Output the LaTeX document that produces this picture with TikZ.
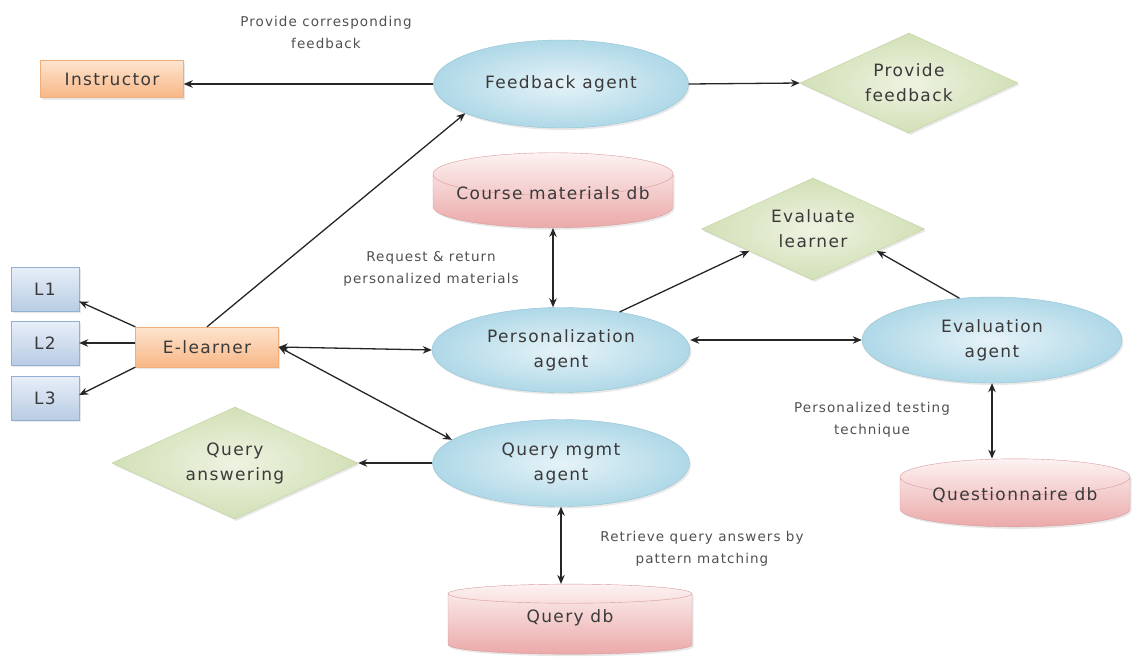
\documentclass[tikz,border=0pt]{standalone}
\usepackage{fontspec}
\setmainfont[LetterSpace=8]{DejaVu Sans}
\usetikzlibrary{shapes.geometric,arrows.meta,shadows}
\tikzset {>={Stealth[length=9pt,width=7.5pt]}}

\newcommand\dbtext[1]{\raisebox{2pt}[0pt][0pt]{#1}}

\definecolor{txtgrey}{HTML}{3A3A3A}
\definecolor{lblgrey}{HTML}{505050}
\definecolor{agentin}{HTML}{E6F3F8}
\definecolor{agentout}{HTML}{AFD8E7}
\definecolor{agentline}{HTML}{92C2D4}
\definecolor{dbtop}{HTML}{FDF2F2}
\definecolor{dbbot}{HTML}{EBA9A9}
\definecolor{dbline}{HTML}{D99A9A}
\definecolor{decin}{HTML}{EEF3E2}
\definecolor{decout}{HTML}{D2E0B6}
\definecolor{decline}{HTML}{BFD09C}
\definecolor{persontop}{HTML}{FDE4CF}
\definecolor{personbot}{HTML}{F8B786}
\definecolor{personline}{HTML}{EFAE7C}
\definecolor{lboxtop}{HTML}{E8EFF8}
\definecolor{lboxbot}{HTML}{B8CCE4}
\definecolor{lboxline}{HTML}{93AFD2}

\tikzset{
  nodetext/.style={font=\fontsize{17}{25}\selectfont, text=txtgrey, align=center, inner sep=0pt},
  softshadow/.style={drop shadow={shadow xshift=1.5pt, shadow yshift=-2pt, opacity=.18}},
  agent/.style={nodetext, ellipse, draw=agentline, inner color=agentin, outer color=agentout, softshadow},
  dbase/.style={nodetext, cylinder, shape border rotate=90, aspect=0.22, draw=dbline,
    top color=dbtop, bottom color=dbbot, softshadow},
  decision/.style={nodetext, diamond, aspect=2.2, draw=decline, inner color=decin, outer color=decout, softshadow},
  person/.style={nodetext, rectangle, draw=personline, top color=persontop, bottom color=personbot, softshadow},
  lbox/.style={nodetext, rectangle, draw=lboxline, top color=lboxtop, bottom color=lboxbot,
    minimum width=68, minimum height=44, softshadow},
  lbl/.style={font=\fontsize{13.5}{22}\selectfont, text=lblgrey, align=center},
  link/.style={line width=1.3pt, draw=black!85}
}

\begin{document}
\begin{tikzpicture}[x=1pt,y=-1pt]
\useasboundingbox (0,0) rectangle (1132,656);

% agents
\node[agent, minimum width=255, minimum height=88] (feedback) at (561,84) {Feedback agent};
\node[agent, minimum width=258, minimum height=85] (personal) at (561,350) {Personalization\\agent};
\node[agent, minimum width=257, minimum height=87] (query) at (561,463) {Query mgmt\\agent};
\node[agent, minimum width=260, minimum height=86] (evalag) at (992,340) {Evaluation\\agent};

% data bases
\node[dbase, minimum width=240, minimum height=75] (course) at (553,201) {\dbtext{Course materials db}};
\node[dbase, minimum width=230, minimum height=68] (quest) at (1015,502) {\dbtext{Questionnaire db}};
\node[dbase, minimum width=244, minimum height=70] (qdb) at (570,624) {\dbtext{Query db}};

% decisions
\node[decision, minimum width=218, minimum height=100] (pfeed) at (909,83) {Provide\\feedback};
\node[decision, minimum width=223, minimum height=102] (evallearn) at (813,229) {Evaluate\\learner};
\node[decision, minimum width=246, minimum height=112] (qanswer) at (235,463) {Query\\answering};

% people
\node[person, minimum width=143, minimum height=37] (instructor) at (112,79) {Instructor};
\node[person, minimum width=143, minimum height=40] (elearner) at (207,347) {E-learner};
\foreach \n/\y in {1/289,2/343,3/398}
  \node[lbox] (L\n) at (45,\y) {L\n};

% labels
\node[lbl] (lblfeed) at (326,32) {Provide corresponding\\feedback};
\node[lbl] (lblreq) at (431,269) {Request \& return\\personalized materials};
\node[lbl] (lbltest) at (872,420) {Personalized testing\\technique};
\node[lbl] (lblretr) at (702,549) {Retrieve query answers by\\pattern matching};

% links
\draw[link,->] (feedback.west) -- (feedback.west -| instructor.east);
\draw[link,->] (feedback.east) -- (pfeed.west);
\draw[link,->] (elearner.north) -- (feedback.197);
\draw[link,->] (elearner.north west) -- (L1.-20);
\draw[link,->] (L2.east -| elearner.west) -- (L2.east);
\draw[link,->] (elearner.south west) -- (L3.5);
\draw[link,<->] (elearner.east) -- (personal.west);
\draw[link,<->] (elearner.east) -- (query.168);
\draw[link,->] (query.west) -- (qanswer.east);
\draw[link,<->] (course.south) -- (course.south |- personal.north);
\draw[link,->] (personal.33) -- (evallearn.199);
\draw[link,<->] (evalag.west) -- (evalag.west -| personal.east);
\draw[link,->] (evalag.128) -- (evallearn.-19);
\draw[link,<->] (evalag.south) -- (evalag.south |- quest.north);
\draw[link,<->] (query.south) -- (query.south |- qdb.north);
\end{tikzpicture}
\end{document}
